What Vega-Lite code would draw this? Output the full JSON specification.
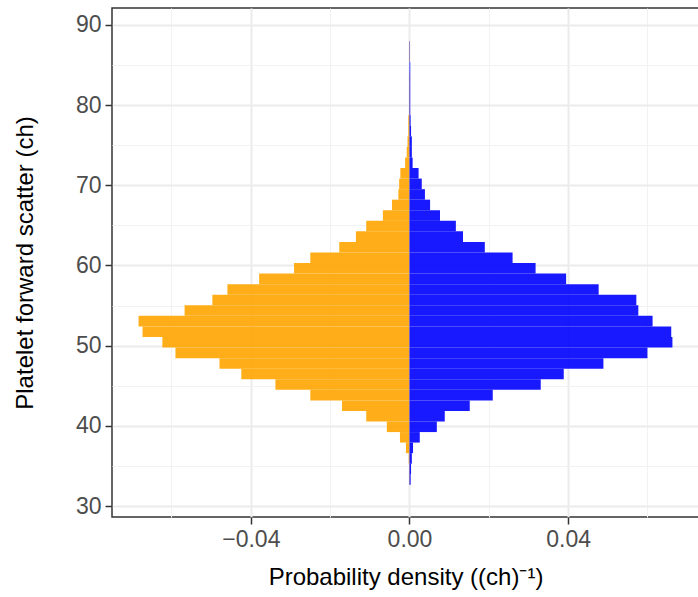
{
  "$schema": "https://vega.github.io/schema/vega-lite/v6.json",
  "width": 587,
  "height": 509,
  "autosize": {"type": "none"},
  "padding": {"left": 112, "top": 8, "right": 0, "bottom": 80},
  "background": "white",
  "config": {
    "font": "Liberation Sans",
    "view": {"stroke": "#333333", "strokeWidth": 1.5},
    "axis": {
      "domain": false,
      "tickColor": "#333333",
      "tickWidth": 1.5,
      "tickSize": 7,
      "labelFont": "Liberation Sans",
      "labelFontSize": 23,
      "labelColor": "#4D4D4D",
      "labelPadding": 4,
      "titleFont": "Liberation Sans",
      "titleFontSize": 24,
      "titleFontWeight": "normal",
      "titleColor": "#000000"
    }
  },
  "data": {
    "values": [
      {"lo": 32.64, "hi": 33.95, "group": "A", "density": -0.0001},
      {"lo": 33.95, "hi": 35.27, "group": "A", "density": -0.0001},
      {"lo": 35.27, "hi": 36.59, "group": "A", "density": -0.0002},
      {"lo": 36.59, "hi": 37.91, "group": "A", "density": -0.0009},
      {"lo": 37.91, "hi": 39.22, "group": "A", "density": -0.0024},
      {"lo": 39.22, "hi": 40.54, "group": "A", "density": -0.0057},
      {"lo": 40.54, "hi": 41.86, "group": "A", "density": -0.0109},
      {"lo": 41.86, "hi": 43.17, "group": "A", "density": -0.0170},
      {"lo": 43.17, "hi": 44.49, "group": "A", "density": -0.0250},
      {"lo": 44.49, "hi": 45.81, "group": "A", "density": -0.0338},
      {"lo": 45.81, "hi": 47.12, "group": "A", "density": -0.0424},
      {"lo": 47.12, "hi": 48.44, "group": "A", "density": -0.0479},
      {"lo": 48.44, "hi": 49.76, "group": "A", "density": -0.0590},
      {"lo": 49.76, "hi": 51.08, "group": "A", "density": -0.0623},
      {"lo": 51.08, "hi": 52.39, "group": "A", "density": -0.0673},
      {"lo": 52.39, "hi": 53.71, "group": "A", "density": -0.0683},
      {"lo": 53.71, "hi": 55.03, "group": "A", "density": -0.0567},
      {"lo": 55.03, "hi": 56.34, "group": "A", "density": -0.0497},
      {"lo": 56.34, "hi": 57.66, "group": "A", "density": -0.0459},
      {"lo": 57.66, "hi": 58.98, "group": "A", "density": -0.0379},
      {"lo": 58.98, "hi": 60.29, "group": "A", "density": -0.0291},
      {"lo": 60.29, "hi": 61.61, "group": "A", "density": -0.0250},
      {"lo": 61.61, "hi": 62.93, "group": "A", "density": -0.0177},
      {"lo": 62.93, "hi": 64.25, "group": "A", "density": -0.0135},
      {"lo": 64.25, "hi": 65.56, "group": "A", "density": -0.0109},
      {"lo": 65.56, "hi": 66.88, "group": "A", "density": -0.0067},
      {"lo": 66.88, "hi": 68.20, "group": "A", "density": -0.0044},
      {"lo": 68.20, "hi": 69.51, "group": "A", "density": -0.0028},
      {"lo": 69.51, "hi": 70.83, "group": "A", "density": -0.0026},
      {"lo": 70.83, "hi": 72.15, "group": "A", "density": -0.0023},
      {"lo": 72.15, "hi": 73.46, "group": "A", "density": -0.0011},
      {"lo": 73.46, "hi": 74.78, "group": "A", "density": -0.0007},
      {"lo": 74.78, "hi": 76.10, "group": "A", "density": -0.0005},
      {"lo": 76.10, "hi": 77.42, "group": "A", "density": -0.0003},
      {"lo": 77.42, "hi": 78.73, "group": "A", "density": -0.0003},
      {"lo": 78.73, "hi": 80.05, "group": "A", "density": -0.0001},
      {"lo": 80.05, "hi": 81.37, "group": "A", "density": -0.0001},
      {"lo": 81.37, "hi": 82.68, "group": "A", "density": -0.0001},
      {"lo": 82.68, "hi": 84.00, "group": "A", "density": -0.0001},
      {"lo": 85.32, "hi": 86.63, "group": "A", "density": -0.0001},
      {"lo": 86.63, "hi": 87.95, "group": "A", "density": -0.0001},
      {"lo": 32.64, "hi": 33.95, "group": "B", "density": 0.0003},
      {"lo": 33.95, "hi": 35.27, "group": "B", "density": 0.0004},
      {"lo": 35.27, "hi": 36.59, "group": "B", "density": 0.0006},
      {"lo": 36.59, "hi": 37.91, "group": "B", "density": 0.0009},
      {"lo": 37.91, "hi": 39.22, "group": "B", "density": 0.0026},
      {"lo": 39.22, "hi": 40.54, "group": "B", "density": 0.0069},
      {"lo": 40.54, "hi": 41.86, "group": "B", "density": 0.0089},
      {"lo": 41.86, "hi": 43.17, "group": "B", "density": 0.0152},
      {"lo": 43.17, "hi": 44.49, "group": "B", "density": 0.0210},
      {"lo": 44.49, "hi": 45.81, "group": "B", "density": 0.0331},
      {"lo": 45.81, "hi": 47.12, "group": "B", "density": 0.0389},
      {"lo": 47.12, "hi": 48.44, "group": "B", "density": 0.0489},
      {"lo": 48.44, "hi": 49.76, "group": "B", "density": 0.0600},
      {"lo": 49.76, "hi": 51.08, "group": "B", "density": 0.0663},
      {"lo": 51.08, "hi": 52.39, "group": "B", "density": 0.0660},
      {"lo": 52.39, "hi": 53.71, "group": "B", "density": 0.0613},
      {"lo": 53.71, "hi": 55.03, "group": "B", "density": 0.0577},
      {"lo": 55.03, "hi": 56.34, "group": "B", "density": 0.0572},
      {"lo": 56.34, "hi": 57.66, "group": "B", "density": 0.0477},
      {"lo": 57.66, "hi": 58.98, "group": "B", "density": 0.0395},
      {"lo": 58.98, "hi": 60.29, "group": "B", "density": 0.0318},
      {"lo": 60.29, "hi": 61.61, "group": "B", "density": 0.0260},
      {"lo": 61.61, "hi": 62.93, "group": "B", "density": 0.0190},
      {"lo": 62.93, "hi": 64.25, "group": "B", "density": 0.0135},
      {"lo": 64.25, "hi": 65.56, "group": "B", "density": 0.0117},
      {"lo": 65.56, "hi": 66.88, "group": "B", "density": 0.0077},
      {"lo": 66.88, "hi": 68.20, "group": "B", "density": 0.0052},
      {"lo": 68.20, "hi": 69.51, "group": "B", "density": 0.0039},
      {"lo": 69.51, "hi": 70.83, "group": "B", "density": 0.0031},
      {"lo": 70.83, "hi": 72.15, "group": "B", "density": 0.0023},
      {"lo": 72.15, "hi": 73.46, "group": "B", "density": 0.0008},
      {"lo": 73.46, "hi": 74.78, "group": "B", "density": 0.0006},
      {"lo": 74.78, "hi": 76.10, "group": "B", "density": 0.0006},
      {"lo": 76.10, "hi": 77.42, "group": "B", "density": 0.0004},
      {"lo": 77.42, "hi": 78.73, "group": "B", "density": 0.0003},
      {"lo": 78.73, "hi": 80.05, "group": "B", "density": 0.0002},
      {"lo": 80.05, "hi": 81.37, "group": "B", "density": 0.0002},
      {"lo": 81.37, "hi": 82.68, "group": "B", "density": 0.0002},
      {"lo": 82.68, "hi": 84.00, "group": "B", "density": 0.0002},
      {"lo": 84.00, "hi": 85.32, "group": "B", "density": 0.0002},
      {"lo": 85.32, "hi": 86.63, "group": "B", "density": 0.0001},
      {"lo": 86.63, "hi": 87.95, "group": "B", "density": 0.0001}
    ]
  },
  "mark": {"type": "rect", "opacity": 0.9},
  "encoding": {
    "y": {
      "field": "lo",
      "type": "quantitative",
      "scale": {"domain": [28.63, 92.1], "nice": false, "zero": false},
      "axis": {
        "title": "Platelet forward scatter (ch)",
        "values": [30, 35, 40, 45, 50, 55, 60, 65, 70, 75, 80, 85, 90],
        "labelExpr": "datum.value % 10 === 0 ? datum.label : ''",
        "tickOpacity": {"condition": {"test": "datum.value % 10 !== 0", "value": 0}, "value": 1},
        "gridColor": {"condition": {"test": "datum.value % 10 === 0", "value": "#EBEBEB"}, "value": "#F2F2F2"},
        "gridWidth": {"condition": {"test": "datum.value % 10 === 0", "value": 2}, "value": 1},
        "titlePadding": 38
      }
    },
    "y2": {"field": "hi"},
    "x": {
      "field": "density",
      "type": "quantitative",
      "scale": {"domain": [-0.075, 0.073], "nice": false, "zero": false},
      "axis": {
        "title": "Probability density ((ch)⁻¹)",
        "values": [-0.06, -0.04, -0.02, 0, 0.02, 0.04, 0.06],
        "labelExpr": "(abs(datum.value) < 0.001 || abs(abs(datum.value) - 0.04) < 0.001) ? format(datum.value, '.2f') : ''",
        "tickOpacity": {"condition": {"test": "abs(datum.value) < 0.001 || abs(abs(datum.value) - 0.04) < 0.001", "value": 1}, "value": 0},
        "gridColor": {"condition": {"test": "abs(datum.value) < 0.001 || abs(abs(datum.value) - 0.04) < 0.001", "value": "#EBEBEB"}, "value": "#F2F2F2"},
        "gridWidth": {"condition": {"test": "abs(datum.value) < 0.001 || abs(abs(datum.value) - 0.04) < 0.001", "value": 2}, "value": 1},
        "labelFlush": false,
        "titlePadding": 14
      }
    },
    "x2": {"datum": 0},
    "color": {
      "field": "group",
      "type": "nominal",
      "scale": {"domain": ["A", "B"], "range": ["#FFA500", "#0000FF"]},
      "legend": null
    }
  }
}
